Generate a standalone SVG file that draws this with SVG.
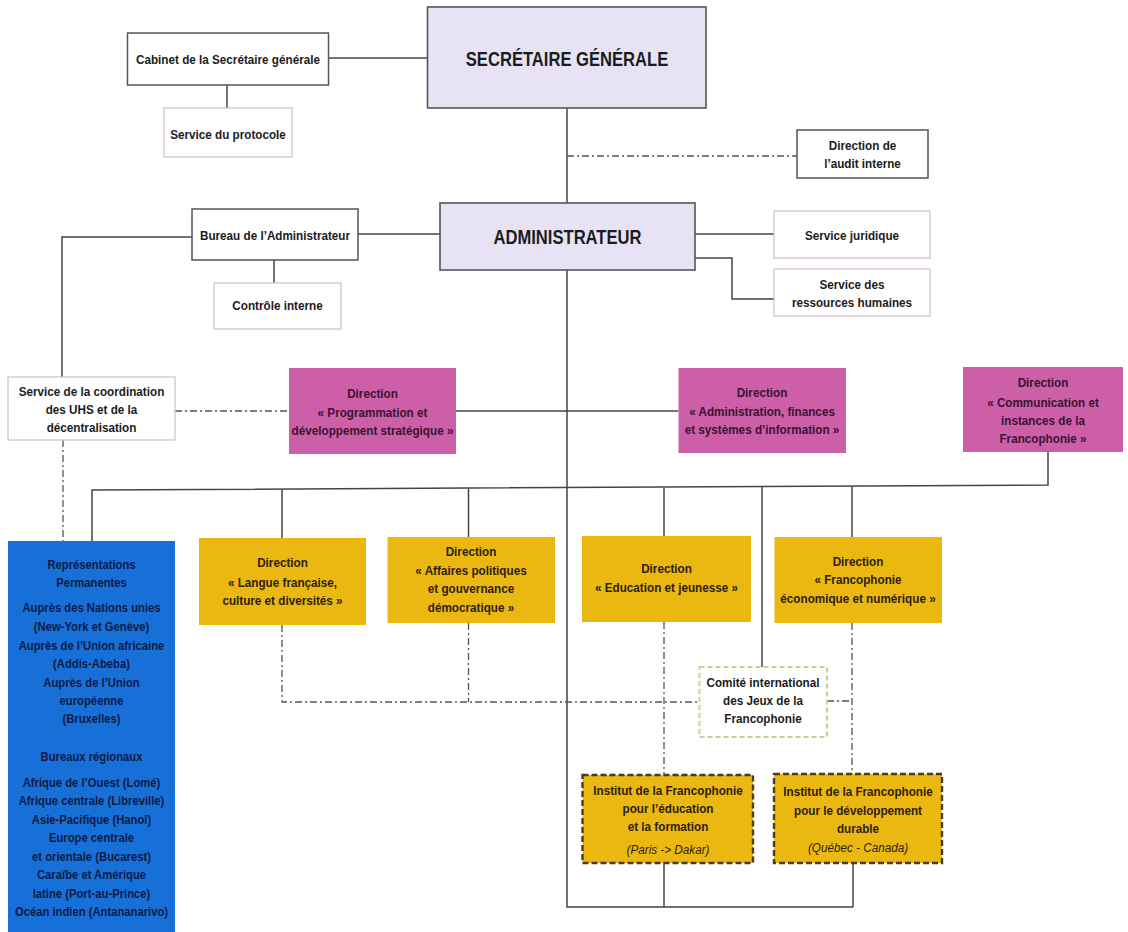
<svg xmlns="http://www.w3.org/2000/svg" width="1128" height="932" viewBox="0 0 1128 932">
<style>
.bg{fill:#ffffff}
.wbox{fill:#ffffff;stroke:#555555;stroke-width:1.5}
.lbox{fill:#ffffff;stroke:#d4bccb;stroke-width:1.2}
.top{fill:#e7e3f4;stroke:#555555;stroke-width:1.6}
.mag{fill:#cd5fa9}
.yel{fill:#eab811}
.blue{fill:#1770d8}
.comite{fill:#ffffff;stroke:#cfcc9e;stroke-width:2;stroke-dasharray:5 3}
.inst{fill:#eab811;stroke:#4a3b25;stroke-width:2.4;stroke-dasharray:6 3}
.t{font-family:"Liberation Sans",Arial,sans-serif;font-weight:bold;font-size:13.3px;text-anchor:middle;fill:#1c1c1c}
.tm{font-family:"Liberation Sans",Arial,sans-serif;font-weight:bold;font-size:13.3px;text-anchor:middle;fill:#3a1330}
.ty{font-family:"Liberation Sans",Arial,sans-serif;font-weight:bold;font-size:13.3px;text-anchor:middle;fill:#2e2208}
.ti{font-family:"Liberation Sans",Arial,sans-serif;font-style:italic;font-size:13.3px;text-anchor:middle;fill:#2e2208}
.tb{font-family:"Liberation Sans",Arial,sans-serif;font-weight:bold;font-size:12.8px;text-anchor:middle;fill:#0c1b45}
.title{font-family:"Liberation Sans",Arial,sans-serif;font-weight:bold;font-size:20px;text-anchor:middle;fill:#1c1c1c}
.ln{fill:none;stroke:#444444;stroke-width:1.5}
.dd{fill:none;stroke:#555555;stroke-width:1.3;stroke-dasharray:7 3 2 3}
</style>
<rect class="bg" x="0" y="0" width="1128" height="932"/>

<g id="connectors">
  <path class="ln" d="M328.6 58 H427.5"/>
  <path class="ln" d="M227 85 V108"/>
  <path class="ln" d="M567 108 V203"/>
  <path class="ln" d="M567 270 V907 H853"/>
  <path class="ln" d="M358 234 H440"/>
  <path class="ln" d="M274 260 V283"/>
  <path class="ln" d="M192 237 H62 V377"/>
  <path class="ln" d="M695 234 H774"/>
  <path class="ln" d="M695 258 H732 V299 H774"/>
  <path class="ln" d="M456 411 H678.5"/>
  <path class="ln" d="M1048 452 V485 L92 490 V541"/>
  <path class="ln" d="M282 489.4 V538"/>
  <path class="ln" d="M468.5 488.5 V537"/>
  <path class="ln" d="M664 487.5 V536"/>
  <path class="ln" d="M762 487 V667"/>
  <path class="ln" d="M852 486.5 V537"/>
  <path class="ln" d="M664 863 V907"/>
  <path class="ln" d="M853 863 V907"/>
  <path class="dd" d="M567 156 H797"/>
  <path class="dd" d="M175 411 H289"/>
  <path class="dd" d="M63 440 V541"/>
  <path class="dd" d="M282 625 V702 H699.5"/>
  <path class="dd" d="M468.5 623 V702"/>
  <path class="dd" d="M664 622 V775"/>
  <path class="dd" d="M827 701 H852"/>
  <path class="dd" d="M852 623 V774"/>
</g>

<g id="n-sg">
  <rect class="top" x="427.5" y="7" width="278.5" height="101"/>
  <g transform="translate(567 0) scale(0.83 1)"><text class="title" x="0" y="66">SECRÉTAIRE GÉNÉRALE</text></g>
</g>
<g id="n-cabinet">
  <rect class="wbox" x="127.5" y="33" width="201" height="52"/>
  <g transform="translate(228 0) scale(0.88 1)"><text class="t" x="0" y="64.5">Cabinet de la Secrétaire générale</text></g>
</g>
<g id="n-protocole">
  <rect class="lbox" x="164" y="108" width="128" height="49"/>
  <g transform="translate(228 0) scale(0.88 1)"><text class="t" x="0" y="139.5">Service du protocole</text></g>
</g>
<g id="n-audit">
  <rect class="wbox" x="797" y="130" width="131" height="48"/>
  <g transform="translate(862.5 0) scale(0.88 1)"><text class="t" x="0" y="150.5">Direction de</text><text class="t" x="0" y="168.5">l’audit interne</text></g>
</g>
<g id="n-admin">
  <rect class="top" x="440" y="203" width="255" height="67"/>
  <g transform="translate(567.5 0) scale(0.83 1)"><text class="title" x="0" y="244">ADMINISTRATEUR</text></g>
</g>
<g id="n-bureau">
  <rect class="wbox" x="192" y="209" width="166" height="51"/>
  <g transform="translate(275 0) scale(0.88 1)"><text class="t" x="0" y="240.5">Bureau de l’Administrateur</text></g>
</g>
<g id="n-controle">
  <rect class="lbox" x="214" y="283" width="127" height="46"/>
  <g transform="translate(277.5 0) scale(0.88 1)"><text class="t" x="0" y="310.5">Contrôle interne</text></g>
</g>
<g id="n-juridique">
  <rect class="lbox" x="774" y="211" width="156" height="47"/>
  <g transform="translate(852 0) scale(0.88 1)"><text class="t" x="0" y="240.5">Service juridique</text></g>
</g>
<g id="n-rh">
  <rect class="lbox" x="774" y="269" width="156" height="47"/>
  <g transform="translate(852 0) scale(0.88 1)"><text class="t" x="0" y="289.5">Service des</text><text class="t" x="0" y="307.5">ressources humaines</text></g>
</g>
<g id="n-coord">
  <rect class="lbox" x="8" y="377" width="167" height="63"/>
  <g transform="translate(91.5 0) scale(0.88 1)"><text class="t" x="0" y="396.5">Service de la coordination</text><text class="t" x="0" y="414.5">des UHS et de la</text><text class="t" x="0" y="432.5">décentralisation</text></g>
</g>
<g id="n-prog">
  <rect class="mag" x="289" y="368" width="167" height="86"/>
  <g transform="translate(372.5 0) scale(0.88 1)"><text class="tm" x="0" y="398.5">Direction</text><text class="tm" x="0" y="417.5">« Programmation et</text><text class="tm" x="0" y="435.5">développement stratégique »</text></g>
</g>
<g id="n-afsi">
  <rect class="mag" x="678.5" y="368" width="167.5" height="85"/>
  <g transform="translate(762 0) scale(0.88 1)"><text class="tm" x="0" y="397.5">Direction</text><text class="tm" x="0" y="416.5">« Administration, finances</text><text class="tm" x="0" y="434.5">et systèmes d’information »</text></g>
</g>
<g id="n-comm">
  <rect class="mag" x="963" y="367" width="160" height="85"/>
  <g transform="translate(1043 0) scale(0.88 1)"><text class="tm" x="0" y="387.5">Direction</text><text class="tm" x="0" y="407.5">« Communication et</text><text class="tm" x="0" y="425.5">instances de la</text><text class="tm" x="0" y="443.5">Francophonie »</text></g>
</g>
<g id="n-rep">
  <rect class="blue" x="8" y="541" width="167" height="395"/>
  <g transform="translate(91.5 0) scale(0.88 1)">
    <text class="tb" x="0" y="569">Représentations</text>
    <text class="tb" x="0" y="587.5">Permanentes</text>
    <text class="tb" x="0" y="612.5">Auprès des Nations unies</text>
    <text class="tb" x="0" y="631">(New-York et Genève)</text>
    <text class="tb" x="0" y="650">Auprès de l’Union africaine</text>
    <text class="tb" x="0" y="668.5">(Addis-Abeba)</text>
    <text class="tb" x="0" y="687">Auprès de l’Union</text>
    <text class="tb" x="0" y="705.5">européenne</text>
    <text class="tb" x="0" y="723.5">(Bruxelles)</text>
    <text class="tb" x="0" y="761">Bureaux régionaux</text>
    <text class="tb" x="0" y="787">Afrique de l’Ouest (Lomé)</text>
    <text class="tb" x="0" y="805.5">Afrique centrale (Libreville)</text>
    <text class="tb" x="0" y="824">Asie-Pacifique (Hanoï)</text>
    <text class="tb" x="0" y="842.5">Europe centrale</text>
    <text class="tb" x="0" y="861">et orientale (Bucarest)</text>
    <text class="tb" x="0" y="879.5">Caraïbe et Amérique</text>
    <text class="tb" x="0" y="898">latine (Port-au-Prince)</text>
    <text class="tb" x="0" y="916.5">Océan indien (Antananarivo)</text>
  </g>
</g>
<g id="n-langue">
  <rect class="yel" x="199" y="538" width="167" height="87"/>
  <g transform="translate(282.5 0) scale(0.88 1)"><text class="ty" x="0" y="567.5">Direction</text><text class="ty" x="0" y="587.5">« Langue française,</text><text class="ty" x="0" y="605.5">culture et diversités »</text></g>
</g>
<g id="n-affaires">
  <rect class="yel" x="387.5" y="537" width="167.5" height="86"/>
  <g transform="translate(471 0) scale(0.88 1)"><text class="ty" x="0" y="556.5">Direction</text><text class="ty" x="0" y="575.5">« Affaires politiques</text><text class="ty" x="0" y="593.5">et gouvernance</text><text class="ty" x="0" y="612.5">démocratique »</text></g>
</g>
<g id="n-education">
  <rect class="yel" x="582" y="536" width="169" height="86"/>
  <g transform="translate(666.5 0) scale(0.88 1)"><text class="ty" x="0" y="573.5">Direction</text><text class="ty" x="0" y="592.5">« Education et jeunesse »</text></g>
</g>
<g id="n-franco">
  <rect class="yel" x="774.5" y="537" width="167.5" height="86"/>
  <g transform="translate(858 0) scale(0.88 1)"><text class="ty" x="0" y="566.5">Direction</text><text class="ty" x="0" y="584.5">« Francophonie</text><text class="ty" x="0" y="603.5">économique et numérique »</text></g>
</g>
<g id="n-comite">
  <rect class="comite" x="699.5" y="667" width="127.5" height="70"/>
  <g transform="translate(763 0) scale(0.88 1)"><text class="t" x="0" y="687.5">Comité international</text><text class="t" x="0" y="705.5">des Jeux de la</text><text class="t" x="0" y="723.5">Francophonie</text></g>
</g>
<g id="n-ifef">
  <rect class="inst" x="582.5" y="775" width="170.5" height="88"/>
  <g transform="translate(668 0) scale(0.88 1)"><text class="ty" x="0" y="795.5">Institut de la Francophonie</text><text class="ty" x="0" y="813.5">pour l’éducation</text><text class="ty" x="0" y="831.5">et la formation</text><text class="ti" x="0" y="854.5">(Paris -&gt; Dakar)</text></g>
</g>
<g id="n-ifdd">
  <rect class="inst" x="774" y="774" width="168" height="89"/>
  <g transform="translate(858 0) scale(0.88 1)"><text class="ty" x="0" y="796.5">Institut de la Francophonie</text><text class="ty" x="0" y="815.5">pour le développement</text><text class="ty" x="0" y="833.5">durable</text><text class="ti" x="0" y="852.5">(Québec - Canada)</text></g>
</g>
</svg>
